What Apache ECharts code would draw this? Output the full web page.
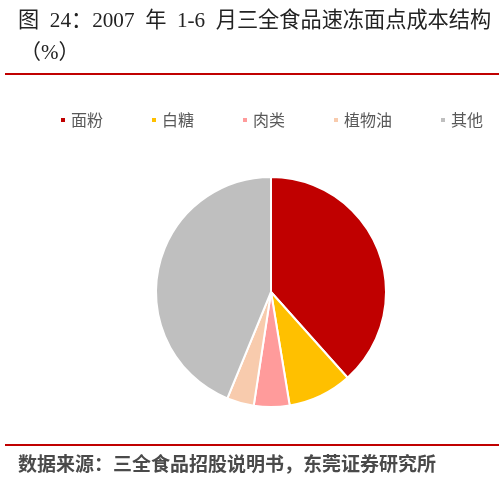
<!DOCTYPE html>
<html><head><meta charset="utf-8">
<script src="https://cdn.jsdelivr.net/npm/echarts@6/dist/echarts.min.js"></script>
<style>html,body{margin:0;padding:0;background:#fff}#c{width:499px;height:485px}</style>
</head><body><div id="c"></div>
<script>
const categories = ['面粉', '白糖', '肉类', '植物油', '其他'];
const values = [38.4, 9.0, 5.0, 3.8, 43.8];
const colors = ['#C00000', '#FFC000', '#FF9B9B', '#F8CBAD', '#BFBFBF'];
const titleLine1 = '图  24：2007  年  1-6  月三全食品速冻面点成本结构';
const titleLine2 = '（%）';
const sourceText = '数据来源：三全食品招股说明书，东莞证券研究所';

const chart = echarts.init(document.getElementById('c'));
const font = '"Noto Sans CJK SC", sans-serif';
const serif = '"Liberation Serif", "Noto Sans CJK SC", serif';
chart.setOption({
  animation: false,
  color: colors,
  legend: {
    data: categories,
    top: 107, left: 54,
    itemWidth: 6, itemHeight: 6, itemGap: 47,
    icon: 'rect',
    textStyle: { fontSize: 16, color: '#595959', fontFamily: font }
  },
  graphic: [
    { type: 'text', left: 18, top: 11, style: { text: titleLine1, font: '21.2px ' + serif, fill: '#222' } },
    { type: 'text', left: 20, top: 43, style: { text: titleLine2, font: '21px ' + serif, fill: '#222' } },
    { type: 'rect', shape: { x: 5, y: 73, width: 494, height: 2 }, style: { fill: '#C00000' } },
    { type: 'rect', shape: { x: 5, y: 444, width: 494, height: 2 }, style: { fill: '#C00000' } },
    { type: 'text', left: 18, top: 454, style: { text: sourceText, font: 'bold 19px ' + font, fill: '#4a4a4a' } }
  ],
  series: [{
    type: 'pie',
    center: [271, 292],
    radius: 115,
    startAngle: 90,
    label: { show: false },
    labelLine: { show: false },
    itemStyle: { borderColor: '#fff', borderWidth: 2 },
    emphasis: { disabled: true },
    data: categories.map((n, i) => ({ name: n, value: values[i] }))
  }]
});
</script></body></html>
